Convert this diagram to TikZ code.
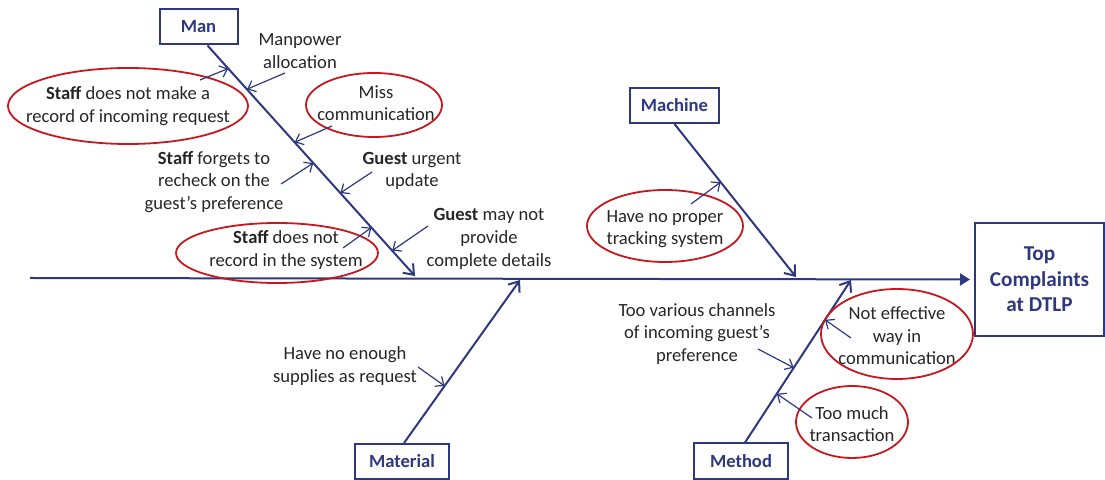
\documentclass[tikz,border=0pt]{standalone}
\usepackage{fontspec}
\setmainfont{Carlito}
\usetikzlibrary{arrows.meta}
\definecolor{fishblue}{RGB}{46,56,128}
\definecolor{ringred}{RGB}{198,24,30}
\definecolor{notegray}{RGB}{38,38,38}
\begin{document}
\begin{tikzpicture}[x=0.5pt,y=-0.5pt,
  catbox/.style={draw=fishblue, line width=1pt, text=fishblue, font=\fontsize{9.3}{11}\selectfont\bfseries, minimum height=17.5pt, inner sep=0pt},
  note/.style={text=notegray, align=center, font=\fontsize{9.3}{11.3}\selectfont, inner sep=0pt},
  ring/.style={draw=ringred, line width=0.9pt},
  bone/.style={draw=fishblue, line width=1pt, -{Straight Barb[length=4.5pt,width=7pt]}},
  cause/.style={draw=fishblue, line width=0.6pt, -{Straight Barb[length=3.5pt,width=6pt]}},
  spine/.style={draw=fishblue, line width=1pt, -{Triangle[length=5pt,width=6pt]}}]
\def\xmin{0}
\def\xmax{1105}
\def\ymin{0}
\def\ymax{480}
\def\spiney{278}
\useasboundingbox (\xmin,\ymin) rectangle (\xmax,\ymax);
\node[catbox, minimum width=39pt] (man) at (198.5,27) {Man};
\node[catbox, minimum width=44.5pt] (machine) at (674.5,105.5) {Machine};
\node[catbox, minimum width=47pt] (material) at (402,461.5) {Material};
\node[catbox, minimum width=47pt, minimum height=18pt] (method) at (741,461.5) {Method};
\node[catbox, minimum width=64.5pt, minimum height=56.5pt, align=center, font=\fontsize{10.6}{12.7}\selectfont\bfseries] (top) at (1039.5,279.5) {Top\\Complaints\\at DTLP};
\coordinate (tail) at (30,\spiney);
\coordinate (manTip) at (415,276);
\coordinate (machineTip) at (796,277);
\coordinate (materialTip) at (520,280);
\coordinate (methodTip) at (851,280);
\draw[spine] (tail) -- ([xshift=-2pt]top.west);
\draw[bone] ([xshift=4.5pt]man.south) -- (manTip);
\draw[bone] (machine.south) -- (machineTip);
\draw[bone] ([xshift=1pt]material.north) -- (materialTip);
\draw[bone] ([xshift=2pt]method.north) -- (methodTip);
\path ([xshift=4.5pt]man.south) -- (manTip)
  coordinate[pos=0.10] (m1) coordinate[pos=0.19] (m2) coordinate[pos=0.42] (m3)
  coordinate[pos=0.51] (m4) coordinate[pos=0.64] (m5) coordinate[pos=0.79] (m6)
  coordinate[pos=0.89] (m7);
\path (machine.south) -- (machineTip) coordinate[pos=0.38] (k1);
\path ([xshift=1pt]material.north) -- (materialTip) coordinate[pos=0.35] (t1);
\path ([xshift=2pt]method.north) -- (methodTip)
  coordinate[pos=0.46] (h1) coordinate[pos=0.30] (h2) coordinate[pos=0.755] (h3);
\node[note] (manpower) at (300,51) {Manpower\\allocation};
\node[note] (staffA) at (128,106) {\textbf{Staff} does not make a\\record of incoming request};
\draw[ring] (staffA.center) ellipse [x radius=60pt, y radius=19pt];
\node[note] (miss) at (376,103) {Miss\\communication};
\draw[ring] ([xshift=-1pt,yshift=-1pt]miss.center) ellipse [x radius=34pt, y radius=16pt];
\node[note] (forgets) at (214,182) {\textbf{Staff} forgets to\\recheck on the\\guest’s preference};
\node[note] (urgent) at (412,171) {\textbf{Guest} urgent\\update};
\node[note] (staffB) at (286,250) {\textbf{Staff} does not\\record in the system};
\draw[ring] ([xshift=-4.5pt,yshift=-1.5pt]staffB.center) ellipse [x radius=50.5pt, y radius=15pt];
\node[note] (guestMay) at (489,239) {\textbf{Guest} may not\\provide\\complete details};
\node[note] (tracking) at (665,229) {Have no proper\\tracking system};
\draw[ring] ([yshift=1.5pt]tracking.center) ellipse [x radius=39pt, y radius=18pt];
\node[note] (supplies) at (345,366) {Have no enough\\supplies as request};
\node[note] (channels) at (697,334) {Too various channels\\of incoming guest’s\\preference};
\node[note] (noteff) at (897,336) {Not effective\\way in\\communication};
\draw[ring] ([yshift=1pt]noteff.center) ellipse [x radius=38pt, y radius=22.5pt];
\node[note] (toomuch) at (852,424) {Too much\\transaction};
\draw[ring] ([yshift=1pt]toomuch.center) ellipse [x radius=28pt, y radius=18pt];
\coordinate (s1) at (200,80);
\coordinate (s2) at (285,73);
\coordinate (s3) at (332,126);
\coordinate (s4) at (281,184);
\coordinate (s5) at (372,172);
\coordinate (s6) at (343,248);
\coordinate (s7) at (428,226);
\coordinate (s8) at (691,204);
\coordinate (s9) at (418,367);
\coordinate (s10) at (758,349);
\coordinate (s11) at (812,418);
\coordinate (s12) at (851,338);
\foreach \s/\e in {s1/m1, s2/m2, s3/m3, s4/m4, s5/m5, s6/m6, s7/m7, s8/k1, s9/t1, s10/h1, s11/h2, s12/h3} {
    \draw[cause] (\s) -- (\e);
}
\end{tikzpicture}
\end{document}
